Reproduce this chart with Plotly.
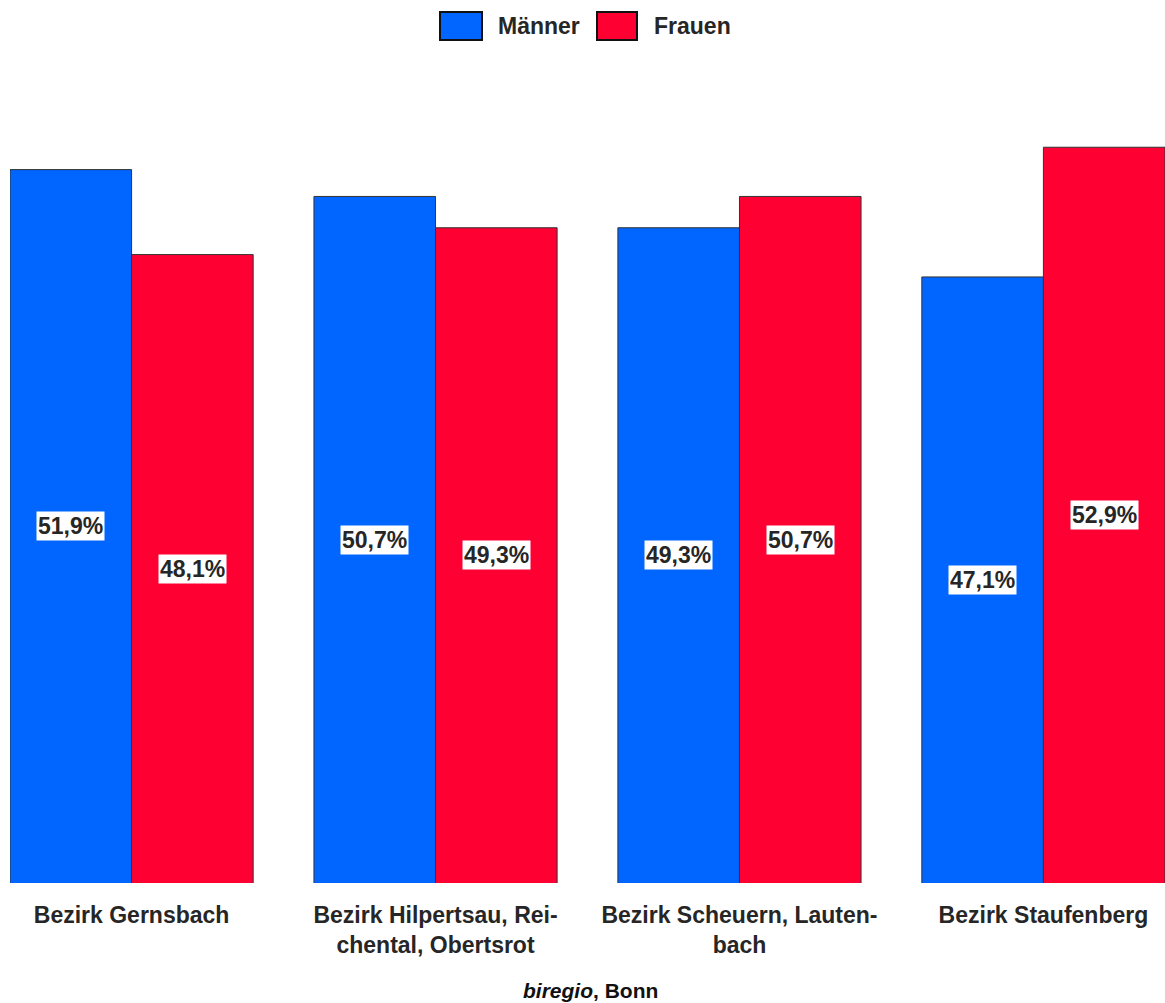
import plotly.graph_objects as go

categories = ["Bezirk Gernsbach",
              "Bezirk Hilpertsau, Rei-<br>chental, Obertsrot",
              "Bezirk Scheuern, Lauten-<br>bach",
              "Bezirk Staufenberg"]
maenner = [51.9, 50.7, 49.3, 47.1]
frauen = [48.1, 49.3, 50.7, 52.9]
series_names = ["Männer", "Frauen"]
colors = ["#0066FF", "#FF0033"]
y_min = 20
y_max = 53

FONT = "Liberation Sans"
TXT = "#262626"

fig = go.Figure()
for name, vals, col in zip(series_names, [maenner, frauen], colors):
    fig.add_trace(go.Bar(
        x=list(range(len(categories))), y=vals, name=name,
        marker=dict(color=col, line=dict(color="#333333", width=1)),
        showlegend=False, hoverinfo="skip"))

annotations = []
offsets = [-0.2, 0.2]
for off, vals in zip(offsets, [maenner, frauen]):
    for i, v in enumerate(vals):
        annotations.append(dict(
            x=i + off, y=(y_min + v) / 2, xref="x", yref="y",
            text="<b>" + f"{v:.1f}".replace(".", ",") + "%</b>",
            showarrow=False, bgcolor="white", borderpad=1,
            font=dict(family=FONT, size=23, color=TXT)))

# custom legend (paper coordinates)
plot_l, plot_w = 10, 1155
plot_b, plot_h = 120, 738
H = 1003
def px(x):
    return (x - plot_l) / plot_w
def py(y):
    return ((H - y) - plot_b) / plot_h

shapes = []
leg = [(440, 482, 496, "Männer", colors[0]), (597, 637, 652, "Frauen", colors[1])]
for x0, x1, tx, name, col in leg:
    shapes.append(dict(type="rect", xref="paper", yref="paper",
                       x0=px(x0), x1=px(x1), y0=py(40), y1=py(12),
                       fillcolor=col, line=dict(color="#111111", width=2)))
    annotations.append(dict(x=px(tx), y=py(26), xref="paper", yref="paper",
                            xanchor="left", yanchor="middle", showarrow=False,
                            text="<b>" + name + "</b>",
                            font=dict(family=FONT, size=23, color=TXT)))

annotations.append(dict(x=px(590), y=py(990), xref="paper", yref="paper",
                        xanchor="center", yanchor="middle", showarrow=False,
                        text="<b><i>biregio</i>, Bonn</b>",
                        font=dict(family=FONT, size=21, color="#111111")))

fig.update_layout(
    width=1165, height=1003,
    margin=dict(l=plot_l, r=0, t=145, b=plot_b),
    paper_bgcolor="white", plot_bgcolor="white",
    barmode="group", bargap=0.2, bargroupgap=0,
    separators=",.",
    xaxis=dict(tickmode="array", tickvals=list(range(len(categories))),
               ticktext=["<b>" + c + "</b>" for c in categories],
               range=[-0.4, 3.4], showgrid=False, zeroline=False,
               showline=False, ticks="", ticklabelstandoff=16,
               tickfont=dict(family=FONT, size=23, color=TXT)),
    yaxis=dict(range=[y_min, y_max], visible=False, showgrid=False),
    showlegend=False,
    annotations=annotations, shapes=shapes,
)

fig.write_html("out.html")
